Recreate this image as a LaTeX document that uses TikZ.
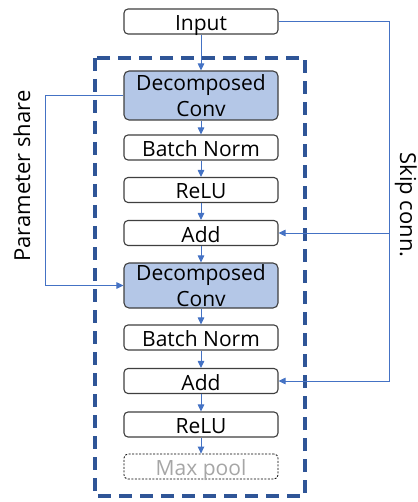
\documentclass[tikz,border=0pt]{standalone}
\usepackage{fontspec}
\setmainfont{Open Sans}
\usetikzlibrary{arrows.meta}
\definecolor{boxline}{HTML}{3F3F3F}
\definecolor{convfill}{HTML}{B4C7E7}
\definecolor{conn}{HTML}{4472C4}
\definecolor{frame}{HTML}{2F5597}
\definecolor{greytext}{HTML}{A6A6A6}
\tikzset{
  blk/.style={draw=boxline, line width=1.1pt, rounded corners=4pt, fill=white,
    minimum width=154pt, minimum height=25pt, inner sep=0pt,
    text height=18pt, text depth=0pt,
    font=\fontsize{21}{25.5}\selectfont},
  convblk/.style={draw=boxline, line width=1.1pt, rounded corners=5pt, fill=convfill,
    minimum width=154pt, inner sep=0pt, align=center,
    font=\fontsize{21}{25.5}\selectfont},
  poolblk/.style={blk, draw=black, line width=0.8pt, dash pattern=on 2pt off 1.5pt, text=greytext},
  flow/.style={draw=conn, line width=1pt, -{Triangle[length=7pt,width=6.5pt]}},
  flowline/.style={draw=conn, line width=1pt},
  lbl/.style={font=\fontsize{22}{26}\selectfont, anchor=base, inner sep=0pt}
}
\begin{document}
\begin{tikzpicture}[x=1pt,y=-1pt]
\useasboundingbox (0,0) rectangle (417,502);
% dashed frame
\draw[frame, line width=4pt, dash pattern=on 13pt off 8pt] (95,58) rectangle (305,496);
% nodes
\node[blk] (in) at (201,21.5) {Input};
\node[convblk, minimum height=49pt] (dc1) at (201,95.5) {Decomposed\\Conv};
\node[blk] (bn1) at (201,147.5) {Batch Norm};
\node[blk] (re1) at (201,190) {ReLU};
\node[blk] (ad1) at (201,233) {Add};
\node[convblk, minimum height=45pt] (dc2) at (201,285.5) {Decomposed\\Conv};
\node[blk] (bn2) at (201,337.5) {Batch Norm};
\node[blk] (ad2) at (201,381) {Add};
\node[blk] (re2) at (201,424.5) {ReLU};
\node[poolblk] (mp) at (201,466.5) {Max pool};
% main flow
\draw[flow] (in) -- (dc1);
\draw[flow] (dc1) -- (bn1);
\draw[flow] (bn1) -- (re1);
\draw[flow] (re1) -- (ad1);
\draw[flow] (ad1) -- (dc2);
\draw[flow] (dc2) -- (bn2);
\draw[flow] (bn2) -- (ad2);
\draw[flow] (ad2) -- (re2);
\draw[flow] (re2) -- (mp);
% parameter share
\coordinate (ps1) at (45,95.5);
\coordinate (ps2) at (45,285.5);
\draw[flow] (dc1.west) -- (ps1) -- (ps2) -- (dc2.west);
% skip connection
\coordinate (sk1) at (389,21.5);
\coordinate (sk2) at (389,233);
\coordinate (sk3) at (389,381);
\draw[flow] (in.east) -- (sk1) -- (sk3) -- (ad2.east);
\draw[flow] (sk2) -- (ad1.east);
% labels
\node[lbl, rotate=90] (plbl) at (30,176) {Parameter share};
\node[lbl, rotate=-90] (slbl) at (400,205) {Skip conn.};
\end{tikzpicture}
\end{document}
